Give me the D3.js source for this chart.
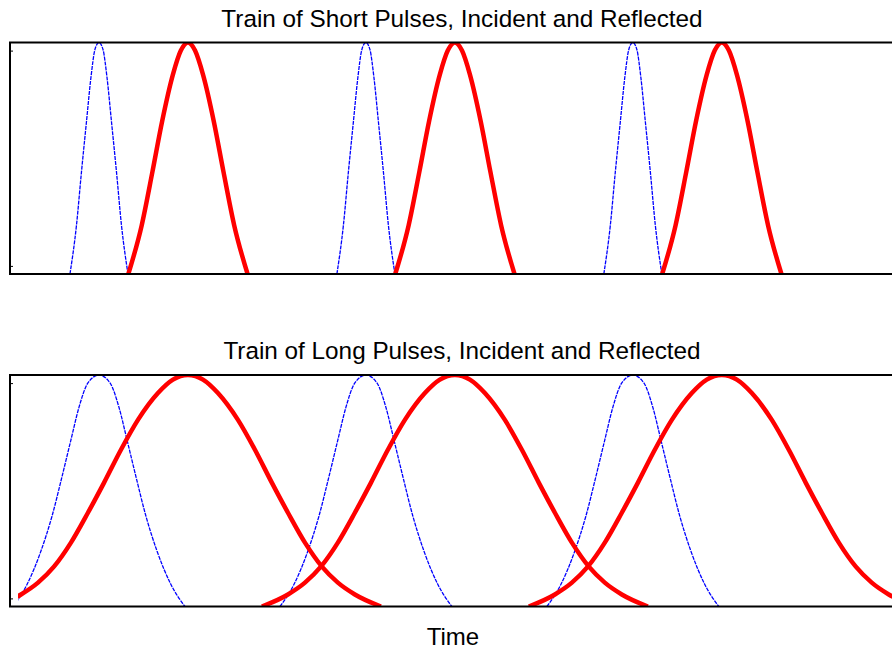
<!DOCTYPE html>
<html lang="en">
<head>
<meta charset="UTF-8">
<title>Train of Pulses, Incident and Reflected</title>
<script src="https://cdn.jsdelivr.net/npm/d3@7"></script>
<style>
    body { margin: 0; background: #fff; overflow: hidden; }
    svg { display: block; font-family: "Liberation Sans", Arial, sans-serif; }
</style>
</head>
<body>
<svg id="chart" width="892" height="649"></svg>
<script>
// pulse shapes: offset from pulse centre (time units) and amplitude
const shortIncidentOffsets = [-0.326, -0.253, -0.197, -0.14, -0.09, -0.045, 0, 0.045, 0.09, 0.14, 0.197, 0.253, 0.326];
const shortIncidentValues = [0, 0.21, 0.44, 0.66, 0.85, 0.97, 1, 0.97, 0.85, 0.66, 0.44, 0.21, 0];
const shortReflectedOffsets = [-0.67, -0.52, -0.40, -0.29, -0.17, -0.08, 0, 0.08, 0.17, 0.29, 0.40, 0.52, 0.67];
const shortReflectedValues = [0, 0.21, 0.44, 0.66, 0.86, 0.965, 1, 0.965, 0.86, 0.66, 0.44, 0.21, 0];
const longIncidentOffsets = [-0.966, -0.809, -0.652, -0.528, -0.416, -0.315, -0.225, -0.124, 0, 0.124, 0.225, 0.315, 0.416, 0.528, 0.652, 0.809, 0.966];
const longIncidentValues = [0, 0.095, 0.24, 0.39, 0.56, 0.72, 0.86, 0.966, 1, 0.966, 0.86, 0.72, 0.56, 0.39, 0.24, 0.095, 0];
const longReflectedOffsets = [-2.169, -1.876, -1.685, -1.506, -1.315, -1.124, -0.944, -0.753, -0.562, -0.337, -0.169, 0, 0.169, 0.337, 0.562, 0.753, 0.944, 1.124, 1.315, 1.506, 1.685, 1.876, 2.169];
const longReflectedValues = [0, 0.052, 0.103, 0.172, 0.276, 0.405, 0.534, 0.677, 0.806, 0.922, 0.98, 1, 0.98, 0.922, 0.806, 0.677, 0.534, 0.405, 0.276, 0.172, 0.103, 0.052, 0];

// where each pulse of the train peaks
const incidentCentres = [1, 4, 7];
const reflectedCentres = [2, 5, 8];

const timeStart = 0.09;          // first sample of the signals
const timeDomain = [0, 10.16];
const yTicks = [0.035, 0.965];

const titles = ["Train of Short Pulses, Incident and Reflected", "Train of Long Pulses, Incident and Reflected"];

const svg = d3.select("#chart");

const x = d3.scaleLinear().domain(timeDomain).range([10, 914]);

const panels = [
    { title: titles[0], top: 42.5, bottom: 274, incident: [shortIncidentOffsets, shortIncidentValues], reflected: [shortReflectedOffsets, shortReflectedValues] },
    { title: titles[1], top: 375, bottom: 606.5, incident: [longIncidentOffsets, longIncidentValues], reflected: [longReflectedOffsets, longReflectedValues] }
];

function pulse(centre, shape) {
    return shape[0].map((o, i) => [centre + o, shape[1][i]]);
}

panels.forEach((p, k) => {
    const y = d3.scaleLinear().domain([0, 1]).range([p.bottom, p.top]);
    const g = svg.append("g");

    const clipId = "clip" + k;
    svg.append("clipPath").attr("id", clipId)
        .append("rect")
        .attr("x", x(timeStart)).attr("y", p.top)
        .attr("width", x(timeDomain[1]) - x(timeStart))
        .attr("height", p.bottom - p.top);

    const line = d3.line()
        .x(d => x(d[0]))
        .y(d => y(d[1]))
        .curve(d3.curveMonotoneX);

    const curves = g.append("g").attr("clip-path", `url(#${clipId})`);

    curves.selectAll("path.incident")
        .data(incidentCentres.map(c => pulse(c, p.incident)))
        .join("path")
        .attr("class", "incident")
        .attr("d", line)
        .attr("fill", "none")
        .attr("stroke", "#0000ff")
        .attr("stroke-width", 1.3)
        .attr("stroke-dasharray", "4,1");

    curves.selectAll("path.reflected")
        .data(reflectedCentres.map(c => pulse(c, p.reflected)))
        .join("path")
        .attr("class", "reflected")
        .attr("d", line)
        .attr("fill", "none")
        .attr("stroke", "#ff0000")
        .attr("stroke-width", 4.5)
        .attr("stroke-linejoin", "round");

    // box
    g.append("rect")
        .attr("x", x(timeDomain[0]))
        .attr("y", p.top)
        .attr("width", x(timeDomain[1]) - x(timeDomain[0]))
        .attr("height", p.bottom - p.top)
        .attr("fill", "none")
        .attr("stroke", "#000")
        .attr("stroke-width", 2);

    // small inward ticks on the left axis
    const yAxis = d3.axisRight(y).tickValues(yTicks).tickSize(3).tickFormat("");
    g.append("g")
        .attr("transform", `translate(${x(timeDomain[0])},0)`)
        .call(yAxis)
        .call(a => a.select(".domain").remove())
        .selectAll("line").attr("stroke", "#000");

    svg.append("text")
        .attr("x", 462)
        .attr("y", p.top - 16)
        .attr("text-anchor", "middle")
        .attr("font-size", 24.3)
        .attr("fill", "#000")
        .text(p.title);
});

svg.append("text")
    .attr("x", 453)
    .attr("y", 645)
    .attr("text-anchor", "middle")
    .attr("font-size", 24)
    .attr("fill", "#000")
    .text("Time");
</script>
</body>
</html>
